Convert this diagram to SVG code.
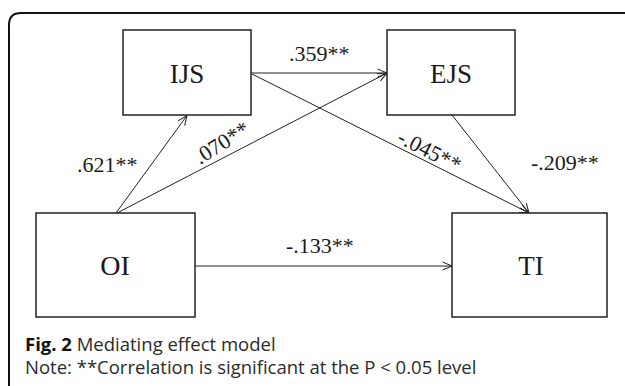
<svg xmlns="http://www.w3.org/2000/svg" width="625" height="386" viewBox="0 0 625 386">
<style>
.box{fill:#fff;stroke:#222;stroke-width:1.5}
.lbl{font-family:"Liberation Serif","Times New Roman",serif;fill:#1a1a1a}
.node{font-size:27px;text-anchor:middle}
.coef{font-size:22px}
.edge{stroke:#222;stroke-width:1;fill:none;marker-end:url(#arr)}
.cap{font-family:"Open Sans","DejaVu Sans",sans-serif;font-size:18.5px;fill:#2b2b2b}
</style>
<defs>
<marker id="arr" viewBox="0 0 10 10" refX="10" refY="5" markerWidth="10" markerHeight="10" markerUnits="userSpaceOnUse" orient="auto">
<path d="M0.5,1 L10,5 L0.5,9" fill="none" stroke="#222" stroke-width="1"/>
</marker>
</defs>
<rect width="625" height="386" fill="#fff"/>
<path d="M9,386 V25 Q9,13 21,13 H625" fill="none" stroke="#111" stroke-width="2"/>
<g id="connectors">
<line class="edge" x1="116" y1="213" x2="187" y2="115.5"/>
<line class="edge" x1="117" y1="213" x2="387" y2="73"/>
<line class="edge" x1="251" y1="73" x2="387" y2="73"/>
<line class="edge" x1="252" y1="74" x2="529" y2="213"/>
<line class="edge" x1="452" y1="115" x2="529" y2="213"/>
<line class="edge" x1="195" y1="266" x2="452" y2="266"/>
<text class="lbl coef" x="289" y="61">.359**</text>
<text class="lbl coef" x="77" y="172">.621**</text>
<text class="lbl coef" x="531" y="170">-.209**</text>
<text class="lbl coef" x="286" y="253">-.133**</text>
<text class="lbl coef" transform="translate(200,165) rotate(-32)">.070**</text>
<text class="lbl coef" transform="translate(396,142) rotate(27)">-.045**</text>
</g>
<g id="IJS">
<rect class="box" x="123" y="30" width="128" height="85"/>
<text class="lbl node" x="187" y="83">IJS</text>
</g>
<g id="EJS">
<rect class="box" x="387" y="30" width="128" height="85"/>
<text class="lbl node" x="451" y="83">EJS</text>
</g>
<g id="OI">
<rect class="box" x="36" y="213" width="159" height="104"/>
<text class="lbl node" x="115" y="275" style="font-size:28px">OI</text>
</g>
<g id="TI">
<rect class="box" x="452" y="213" width="155" height="104"/>
<text class="lbl node" x="531" y="275">TI</text>
</g>
<g id="caption">
<text class="cap" x="25" y="351"><tspan font-weight="bold" fill="#111">Fig. 2</tspan> Mediating effect model</text>
<text class="cap" x="25" y="374">Note: **Correlation is significant at the P &lt; 0.05 level</text>
</g>
</svg>
